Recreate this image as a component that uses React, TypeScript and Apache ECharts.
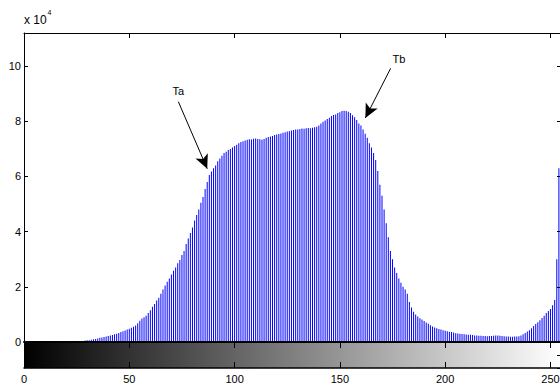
import React, { useEffect, useRef } from "react";
import * as echarts from "echarts";

// gray levels (bins) 0..255
const grayLevels: number[] = Array.from({ length: 256 }, (_, i) => i);

// pixel counts per gray level
const counts: number[] = [
  // 0-25
  0, 0, 0, 0, 0, 0, 0, 0, 0, 0, 0, 0, 0, 0, 0, 0, 0, 0, 0, 0, 0, 0, 0, 0, 0, 0,
  // 26-49
  300, 350, 400, 500, 600, 650, 800, 1000, 1100, 1300, 1500, 1600, 1800, 2000, 2200, 2400, 2500, 2800, 3000, 3300, 3600, 3900, 4200, 4500,
  // 50-74
  4800, 5200, 5500, 6000, 6800, 7700, 8500, 9000, 9500, 10500, 11500, 12800, 13800, 15000, 16000, 17500, 19000, 20500, 21800, 23000, 24500, 25800, 27000, 28500, 29700,
  // 75-99
  31500, 33000, 35500, 37500, 39500, 41500, 44000, 46000, 48000, 50500, 52600, 55500, 58000, 60500, 61800, 63000, 64000, 65500, 66500, 67500, 68500, 69000, 69600, 70000, 70500,
  // 100-124
  71000, 71500, 72000, 72500, 72800, 73000, 73300, 73500, 73400, 73700, 73800, 73600, 73500, 73300, 73600, 74000, 74300, 74500, 74700, 75000, 75200, 75400, 75600, 75800, 76000,
  // 125-149
  76300, 76400, 76700, 76800, 77000, 77000, 77200, 77400, 77300, 77500, 77600, 77500, 77700, 77800, 78000, 78500, 79200, 79800, 80300, 80800, 81300, 81900, 82300, 82500, 83000,
  // 150-174
  83300, 83700, 83800, 83700, 83500, 83000, 82200, 81500, 80500, 79200, 78500, 77000, 75500, 74000, 72000, 70500, 68500, 66000, 62000, 57000, 53000, 48000, 43000, 38000, 33000,
  // 175-199
  30000, 27000, 25000, 23000, 21500, 20000, 19000, 17500, 14500, 12500, 11000, 10000, 9200, 8600, 8200, 7600, 7100, 6600, 6100, 5600, 5300, 5000, 4700, 4500, 4300,
  // 200-224
  4100, 3900, 3700, 3600, 3400, 3200, 3100, 3000, 2900, 2800, 2700, 2600, 2600, 2500, 2400, 2400, 2300, 2300, 2200, 2200, 2100, 2200, 2200, 2300, 2400,
  // 225-249
  2400, 2300, 2200, 2100, 2000, 2000, 1900, 1900, 2000, 2000, 2100, 2400, 2800, 3300, 3800, 4300, 5000, 5800, 6500, 7200, 7900, 8700, 9500, 10500, 11200,
  // 250-255
  12000, 13300, 15200, 30000, 63000, 63000,
];

const xTickStep = 50;
const yTickStep = 20000;
const yMax = 112000;
const yScaleLabel = "x 10";
const yScaleExp = "4";

// annotations: label, label position, arrow start, arrow end
const annoLabels = ["Ta", "Tb"];
const annoLabelPos: number[][] = [[73.3, 90800], [178.0, 102700]];
const annoFrom: number[][] = [[73.3, 87100], [174.1, 99200]];
const annoTo: number[][] = [[87.0, 62800], [162.1, 81200]];

const FONT = "'Liberation Sans', Arial, Helvetica, sans-serif";

export default function App() {
  const ref = useRef<HTMLDivElement>(null);
  useEffect(() => {
    if (!ref.current) return;
    const chart = echarts.init(ref.current, undefined, { renderer: "svg" });
    const black = "#000";
    const baseX = (gridIndex: number, position: string) => ({
      type: "value",
      gridIndex,
      position,
      min: 0,
      max: 255,
      interval: xTickStep,
      splitLine: { show: false },
      z: 5,
    });
    const option: any = {
      animation: false,
      backgroundColor: "#fff",
      textStyle: { fontFamily: FONT },
      grid: [
        { left: 24, top: 33, width: 537, height: 309, outerBoundsMode: "none", containLabel: false },
        { left: 24, top: 342, width: 537, height: 26, outerBoundsMode: "none", containLabel: false },
      ],
      xAxis: [
        {
          ...baseX(0, "bottom"),
          axisLine: { show: true, onZero: false, lineStyle: { color: black, width: 2 } },
          axisTick: { show: false },
          axisLabel: { show: false },
        },
        {
          ...baseX(0, "top"),
          axisLine: { show: true, onZero: false, lineStyle: { color: black, width: 1 } },
          axisTick: { show: true, inside: true, length: 5, lineStyle: { color: black } },
          axisLabel: { show: false },
        },
        {
          ...baseX(1, "bottom"),
          axisLine: { show: true, onZero: false, lineStyle: { color: black, width: 1.5 } },
          axisTick: { show: true, inside: true, length: 6, lineStyle: { color: black } },
          axisLabel: {
            show: true,
            color: black,
            fontSize: 11,
            fontFamily: FONT,
            margin: 5,
            showMaxLabel: false,
          },
        },
        {
          ...baseX(1, "top"),
          axisLine: { show: false, onZero: false },
          axisTick: { show: true, inside: true, length: 6, lineStyle: { color: black } },
          axisLabel: { show: false },
        },
      ],
      yAxis: [
        {
          type: "value",
          gridIndex: 0,
          position: "left",
          min: 0,
          max: yMax,
          interval: yTickStep,
          splitLine: { show: false },
          axisLine: { show: true, onZero: false, lineStyle: { color: black, width: 1 } },
          axisTick: { show: true, inside: true, length: 4, lineStyle: { color: black } },
          axisLabel: {
            color: black,
            fontSize: 11,
            fontFamily: FONT,
            margin: 3,
            showMaxLabel: false,
            formatter: (v: number) => String(v / 10000),
          },
          z: 5,
        },
        {
          type: "value",
          gridIndex: 0,
          position: "right",
          min: 0,
          max: yMax,
          interval: yTickStep,
          splitLine: { show: false },
          axisLine: { show: true, onZero: false, lineStyle: { color: black, width: 1 } },
          axisTick: { show: true, inside: true, length: 4, lineStyle: { color: black } },
          axisLabel: { show: false },
          z: 5,
        },
        {
          type: "value",
          gridIndex: 1,
          position: "left",
          min: 0,
          max: 1,
          splitLine: { show: false },
          axisLine: { show: true, onZero: false, lineStyle: { color: black, width: 1 } },
          axisTick: { show: false },
          axisLabel: { show: false },
          z: 5,
        },
        {
          type: "value",
          gridIndex: 1,
          position: "right",
          min: 0,
          max: 1,
          interval: 0.5,
          splitLine: { show: false },
          axisLine: { show: true, onZero: false, lineStyle: { color: black, width: 1 } },
          axisTick: { show: true, inside: true, length: 4, lineStyle: { color: black } },
          axisLabel: { show: false },
          z: 5,
        },
      ],
      series: [
        {
          type: "custom",
          xAxisIndex: 2,
          yAxisIndex: 2,
          silent: true,
          z: 1,
          data: [[grayLevels[0], grayLevels[grayLevels.length - 1]]],
          encode: { x: [0, 1] },
          renderItem: (params: any, api: any) => {
            const p0 = api.coord([api.value(0), 1]);
            const p1 = api.coord([api.value(1), 0]);
            return {
              type: "rect",
              shape: { x: p0[0], y: p0[1], width: p1[0] - p0[0], height: p1[1] - p0[1] },
              style: {
                fill: new echarts.graphic.LinearGradient(0, 0, 1, 0, [
                  { offset: 0, color: "#000" },
                  { offset: 1, color: "#fff" },
                ]),
              },
            };
          },
        },
        {
          type: "bar",
          xAxisIndex: 0,
          yAxisIndex: 0,
          barWidth: 1,
          itemStyle: { color: "#0000ff" },
          silent: true,
          data: counts.map((c, i) => [grayLevels[i], c]),
          markLine: {
            silent: true,
            symbol: ["none", "arrow"],
            label: { show: false },
            lineStyle: { color: black, width: 1, type: "solid" },
            data: annoFrom.map((f, k) => [
              { coord: f, symbol: "none" },
              { coord: annoTo[k], symbol: "arrow", symbolSize: [10, 14] },
            ]),
          },
          markPoint: {
            silent: true,
            symbol: "rect",
            symbolSize: 1,
            itemStyle: { color: "rgba(0,0,0,0)" },
            label: {
              show: true,
              position: "inside",
              color: black,
              fontSize: 11,
              fontFamily: FONT,
              formatter: "{b}",
            },
            data: annoLabels.map((name, k) => ({ name, coord: annoLabelPos[k] })),
          },
        },
      ],
      graphic: [
        {
          type: "text",
          x: 24,
          y: 20,
          style: {
            text: yScaleLabel,
            fill: black,
            font: `12px ${FONT}`,
            align: "left",
            verticalAlign: "middle",
          },
        },
        {
          type: "text",
          x: 47.5,
          y: 12.5,
          style: {
            text: yScaleExp,
            fill: black,
            font: `7px ${FONT}`,
            align: "left",
            verticalAlign: "middle",
          },
        },
      ],
    };
    chart.setOption(option);
    return () => chart.dispose();
  }, []);
  return (
    <div
      ref={ref}
      style={{ position: "absolute", left: 0, top: 0, width: 560, height: 387, background: "#fff" }}
    />
  );
}
